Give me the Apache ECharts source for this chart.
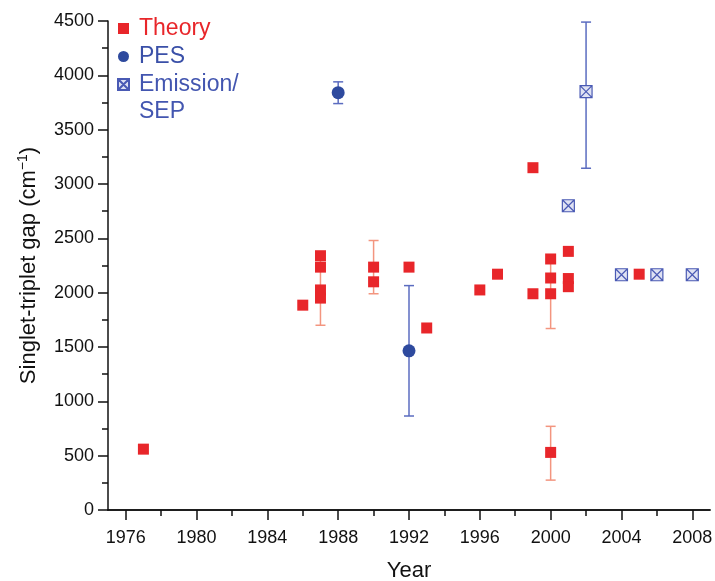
<!DOCTYPE html>
<html>
<head>
<meta charset="utf-8">
<script src="https://cdn.jsdelivr.net/npm/echarts@6/dist/echarts.min.js"></script>
<style>html,body{margin:0;padding:0;background:#fff;}#c{width:715px;height:581px;}</style>
</head>
<body>
<div id="c"></div>
<script>
const theoryYears = [1977, 1986, 1987, 1987, 1987, 1987, 1990, 1990, 1992, 1993, 1996, 1997, 1999, 1999, 2000, 2000, 2000, 2000, 2001, 2001, 2001, 2005];
const theoryValues = [560, 1885, 2340, 2235, 2025, 1950, 2235, 2100, 2235, 1675, 2025, 2170, 3150, 1990, 2310, 2135, 1990, 530, 2380, 2130, 2055, 2170];
const theoryErrYears = [1987, 1990, 2000, 2000];
const theoryErrLow = [1700, 1990, 1670, 275];
const theoryErrHigh = [2300, 2480, 2310, 770];

const pesYears = [1988, 1992];
const pesValues = [3840, 1465];
const pesErrLow = [3740, 865];
const pesErrHigh = [3940, 2065];

const emisYears = [2001, 2002, 2004, 2006, 2008];
const emisValues = [2800, 3850, 2165, 2165, 2165];
const emisErrYears = [2002];
const emisErrLow = [3145];
const emisErrHigh = [4490];

const xMajorTicks = [1976, 1980, 1984, 1988, 1992, 1996, 2000, 2004, 2008];
const xMinorTicks = [1978, 1982, 1986, 1990, 1994, 1998, 2002, 2006];

const RED = '#e8262a';
const RED_ERR = '#f3957f';
const BLUE = '#2e4a9e';
const BLUE_ERR = '#5b6cc0';
const FONT = '"Liberation Sans", Arial, sans-serif';

function pairs(xs, ys) { return xs.map((x, i) => [x, ys[i]]); }
function errData(xs, lo, hi) { return xs.map((x, i) => [x, lo[i], hi[i]]); }
function errRender(color) {
  return function (params, api) {
    const x = api.value(0);
    const lo = api.coord([x, api.value(1)]);
    const hi = api.coord([x, api.value(2)]);
    const cap = 5;
    const style = { stroke: color, lineWidth: 1.5, fill: null };
    return {
      type: 'group',
      children: [
        { type: 'line', shape: { x1: lo[0], y1: lo[1], x2: hi[0], y2: hi[1] }, style: style },
        { type: 'line', shape: { x1: lo[0] - cap, y1: lo[1], x2: lo[0] + cap, y2: lo[1] }, style: style },
        { type: 'line', shape: { x1: hi[0] - cap, y1: hi[1], x2: hi[0] + cap, y2: hi[1] }, style: style }
      ]
    };
  };
}

const emisSymbol = 'path://M0,0L10,0L10,10L0,10Z M0,0L10,10 M10,0L0,10';
const plain = function (v) { return String(v); };

const chart = echarts.init(document.getElementById('c'));
chart.setOption({
  animation: false,
  textStyle: { fontFamily: FONT },
  grid: { left: 108, right: 5, top: 21, bottom: 71, outerBoundsMode: 'none', containLabel: false },
  legend: {
    orient: 'vertical',
    left: 112,
    top: 12,
    itemGap: 5,
    itemWidth: 11,
    itemHeight: 11,
    selectedMode: false,
    textStyle: { fontSize: 23, fontFamily: FONT, padding: [0, 0, 0, 5] },
    formatter: function (n) { return n === 'Emission/SEP' ? 'Emission/' : n; },
    data: [
      { name: 'Theory', textStyle: { color: RED } },
      { name: 'PES', textStyle: { color: '#3a50a8' } },
      { name: 'Emission/SEP', textStyle: { color: '#4356b0' } }
    ]
  },
  graphic: [
    { type: 'text', left: 139, top: 100, style: { text: 'SEP', fontSize: 23, fontFamily: FONT, fill: '#4356b0' } }
  ],
  xAxis: [
    {
      type: 'value', min: 1975, max: 2009,
      name: 'Year', nameLocation: 'middle', nameGap: 50,
      nameTextStyle: { fontSize: 22, color: '#111', fontFamily: FONT },
      axisLine: { lineStyle: { color: '#111', width: 1.5 } },
      axisTick: { show: true, length: 10, customValues: xMajorTicks, lineStyle: { color: '#111', width: 1.5 } },
      axisLabel: { customValues: xMajorTicks, fontSize: 18, color: '#111', margin: 19, fontFamily: FONT, formatter: plain },
      splitLine: { show: false }
    },
    {
      type: 'value', min: 1975, max: 2009, position: 'bottom', offset: 0,
      axisLine: { show: true, lineStyle: { color: '#111', width: 1.5 } },
      axisTick: { show: true, length: 6, customValues: xMinorTicks, lineStyle: { color: '#111', width: 1.5 } },
      axisLabel: { show: false },
      splitLine: { show: false }
    }
  ],
  yAxis: {
    type: 'value', min: 0, max: 4500, interval: 500,
    name: '{a|Singlet-triplet gap (cm}{s|−1}{a|)}', nameLocation: 'middle', nameGap: 66,
    nameTextStyle: {
      rich: {
        a: { fontSize: 22, color: '#111', fontFamily: FONT },
        s: { fontSize: 14, color: '#111', fontFamily: FONT, padding: [0, 0, 12, 0] }
      }
    },
    axisLine: { show: true, lineStyle: { color: '#111', width: 1.5 } },
    axisTick: { show: true, length: 10, lineStyle: { color: '#111', width: 1.5 } },
    minorTick: { show: true, splitNumber: 2, length: 6, lineStyle: { color: '#111', width: 1.5 } },
    axisLabel: { fontSize: 18, color: '#111', margin: 14, fontFamily: FONT, formatter: plain },
    splitLine: { show: false }
  },
  series: [
    { type: 'custom', name: 'theoryErr', renderItem: errRender(RED_ERR), data: errData(theoryErrYears, theoryErrLow, theoryErrHigh), z: 1, silent: true },
    { type: 'custom', name: 'pesErr', renderItem: errRender(BLUE_ERR), data: errData(pesYears, pesErrLow, pesErrHigh), z: 1, silent: true },
    { type: 'custom', name: 'emisErr', renderItem: errRender(BLUE_ERR), data: errData(emisErrYears, emisErrLow, emisErrHigh), z: 1, silent: true },
    { type: 'scatter', name: 'Theory', symbol: 'rect', symbolSize: 11, itemStyle: { color: RED, opacity: 1 }, data: pairs(theoryYears, theoryValues), z: 3 },
    { type: 'scatter', name: 'PES', symbol: 'circle', symbolSize: 13, itemStyle: { color: BLUE, opacity: 1 }, data: pairs(pesYears, pesValues), z: 3 },
    { type: 'scatter', name: 'Emission/SEP', symbol: emisSymbol, symbolSize: 12, itemStyle: { color: '#dfe2f3', borderColor: '#4a5ab4', borderWidth: 1.2, opacity: 1 }, data: pairs(emisYears, emisValues), z: 3 }
  ]
});
</script>
</body>
</html>
